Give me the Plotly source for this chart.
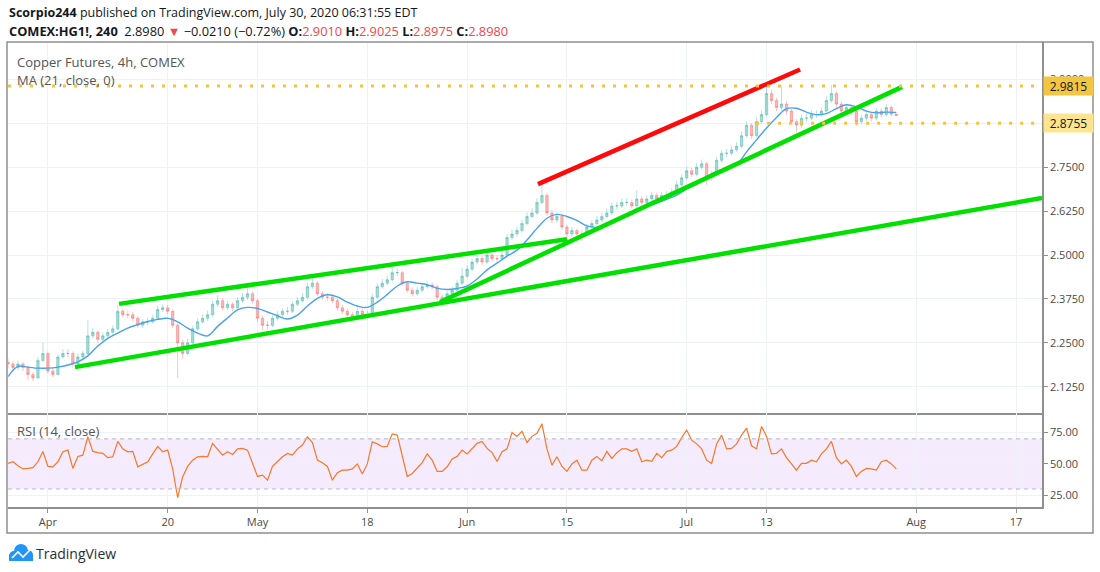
import pandas as pd
import plotly.graph_objects as go
from plotly.subplots import make_subplots

# values, two bars per session day (00:00 and 12:00)
closes = [
    2.190, 2.180, 2.190, 2.180, 2.160, 2.150, 2.200, 2.220, 2.170, 2.160,  # Mar 26 - Apr 1
    2.210, 2.220, 2.220, 2.190, 2.210, 2.220, 2.270, 2.280, 2.260, 2.270,  # Apr 2 - Apr 8
    2.280, 2.290, 2.340, 2.330, 2.330, 2.320, 2.300, 2.310, 2.310, 2.320,  # Apr 9 - Apr 16
    2.345, 2.350, 2.340, 2.300, 2.250, 2.220, 2.250, 2.290, 2.310, 2.320,  # Apr 17 - Apr 23
    2.330, 2.360, 2.370, 2.350, 2.360, 2.350, 2.370, 2.380, 2.390, 2.370,  # Apr 24 - Apr 30
    2.320, 2.300, 2.300, 2.320, 2.330, 2.340, 2.340, 2.360, 2.370, 2.380,  # May 1 - May 7
    2.410, 2.420, 2.390, 2.380, 2.380, 2.370, 2.350, 2.340, 2.330, 2.320,  # May 8 - May 14
    2.340, 2.330, 2.330, 2.380, 2.410, 2.420, 2.430, 2.450, 2.450, 2.420,  # May 15 - May 21
    2.400, 2.390, 2.400, 2.410, 2.415, 2.410, 2.380, 2.370, 2.390, 2.400,  # May 22 - May 28
    2.420, 2.440, 2.460, 2.480, 2.490, 2.480, 2.500, 2.490, 2.490, 2.500,  # May 29 - Jun 4
    2.550, 2.560, 2.570, 2.590, 2.610, 2.620, 2.650, 2.670, 2.620, 2.600,  # Jun 5 - Jun 11
    2.610, 2.580, 2.560, 2.570, 2.560, 2.560, 2.580, 2.590, 2.600, 2.610,  # Jun 12 - Jun 18
    2.620, 2.640, 2.640, 2.650, 2.650, 2.640, 2.660, 2.650, 2.660, 2.670,  # Jun 19 - Jun 25
    2.660, 2.670, 2.670, 2.680, 2.700, 2.720, 2.740, 2.730, 2.750, 2.760,  # Jun 26 - Jul 2
    2.720, 2.730, 2.770, 2.790, 2.790, 2.800, 2.810, 2.840, 2.870, 2.840,  # Jul 3 - Jul 9
    2.880, 2.900, 2.960, 2.940, 2.920, 2.930, 2.910, 2.880, 2.870, 2.890,  # Jul 10 - Jul 16
    2.890, 2.900, 2.900, 2.910, 2.940, 2.960, 2.930, 2.910, 2.920, 2.910,  # Jul 17 - Jul 23
    2.880, 2.890, 2.900, 2.890, 2.910, 2.900, 2.920, 2.901, 2.898,         # Jul 24 - Jul 30
]
highs = [
    2.205, 2.198, 2.200, 2.196, 2.185, 2.168, 2.210, 2.250, 2.225, 2.178,
    2.218, 2.232, 2.232, 2.226, 2.220, 2.228, 2.315, 2.292, 2.286, 2.280,
    2.290, 2.300, 2.358, 2.348, 2.342, 2.338, 2.326, 2.318, 2.322, 2.330,
    2.356, 2.360, 2.358, 2.346, 2.305, 2.258, 2.262, 2.298, 2.320, 2.330,
    2.342, 2.370, 2.386, 2.378, 2.370, 2.366, 2.380, 2.392, 2.410, 2.396,
    2.376, 2.328, 2.312, 2.328, 2.340, 2.348, 2.352, 2.368, 2.380, 2.392,
    2.422, 2.435, 2.426, 2.398, 2.392, 2.388, 2.376, 2.358, 2.348, 2.338,
    2.350, 2.348, 2.342, 2.390, 2.420, 2.432, 2.442, 2.466, 2.462, 2.456,
    2.426, 2.408, 2.410, 2.418, 2.425, 2.422, 2.416, 2.388, 2.398, 2.410,
    2.430, 2.464, 2.470, 2.490, 2.500, 2.498, 2.508, 2.506, 2.500, 2.510,
    2.560, 2.572, 2.582, 2.600, 2.622, 2.634, 2.662, 2.705, 2.676, 2.628,
    2.622, 2.616, 2.586, 2.580, 2.576, 2.572, 2.590, 2.600, 2.612, 2.620,
    2.632, 2.650, 2.652, 2.662, 2.662, 2.658, 2.685, 2.668, 2.670, 2.680,
    2.678, 2.680, 2.682, 2.690, 2.712, 2.730, 2.752, 2.748, 2.762, 2.772,
    2.766, 2.740, 2.780, 2.800, 2.802, 2.812, 2.822, 2.852, 2.880, 2.876,
    2.892, 2.912, 2.990, 2.972, 2.948, 2.980, 2.938, 2.916, 2.888, 2.900,
    2.902, 2.912, 2.912, 2.920, 2.952, 2.984, 2.966, 2.938, 2.930, 2.928,
    2.916, 2.900, 2.912, 2.908, 2.920, 2.918, 2.930, 2.926, 2.9025,
]
lows = [
    2.178, 2.170, 2.172, 2.170, 2.145, 2.140, 2.148, 2.195, 2.162, 2.152,
    2.158, 2.205, 2.210, 2.180, 2.185, 2.205, 2.215, 2.262, 2.250, 2.252,
    2.265, 2.272, 2.285, 2.322, 2.320, 2.312, 2.292, 2.292, 2.300, 2.305,
    2.316, 2.338, 2.332, 2.292, 2.150, 2.205, 2.215, 2.245, 2.284, 2.305,
    2.312, 2.325, 2.352, 2.342, 2.344, 2.340, 2.345, 2.364, 2.372, 2.362,
    2.310, 2.287, 2.288, 2.295, 2.314, 2.324, 2.330, 2.334, 2.354, 2.364,
    2.375, 2.404, 2.382, 2.372, 2.370, 2.362, 2.342, 2.332, 2.322, 2.315,
    2.316, 2.322, 2.320, 2.325, 2.375, 2.404, 2.414, 2.424, 2.440, 2.412,
    2.392, 2.382, 2.384, 2.394, 2.404, 2.402, 2.372, 2.364, 2.365, 2.384,
    2.395, 2.414, 2.435, 2.454, 2.474, 2.472, 2.475, 2.482, 2.478, 2.484,
    2.495, 2.544, 2.552, 2.564, 2.584, 2.604, 2.614, 2.644, 2.612, 2.590,
    2.592, 2.572, 2.543, 2.552, 2.550, 2.540, 2.555, 2.574, 2.584, 2.594,
    2.604, 2.614, 2.630, 2.634, 2.640, 2.632, 2.635, 2.642, 2.644, 2.654,
    2.652, 2.654, 2.660, 2.664, 2.675, 2.694, 2.714, 2.722, 2.724, 2.744,
    2.700, 2.712, 2.725, 2.764, 2.780, 2.784, 2.794, 2.804, 2.835, 2.830,
    2.835, 2.874, 2.895, 2.930, 2.910, 2.912, 2.900, 2.872, 2.848, 2.862,
    2.880, 2.884, 2.890, 2.894, 2.905, 2.934, 2.920, 2.900, 2.902, 2.900,
    2.868, 2.872, 2.882, 2.880, 2.884, 2.892, 2.894, 2.895, 2.8975,
]
first_open = 2.195

rsi = [
    50.4, 51.7, 48.5, 46.0, 46.4, 47.0, 51.7, 60.0, 48.0, 47.7,
    51.7, 59.7, 61.0, 46.4, 56.0, 57.0, 71.7, 60.0, 59.0, 58.4,
    55.0, 55.7, 68.0, 62.0, 59.7, 60.0, 47.7, 50.0, 51.7, 58.0,
    64.0, 59.7, 61.0, 46.0, 23.0, 39.6, 48.0, 53.0, 55.7, 56.0,
    55.7, 66.4, 62.0, 57.0, 59.7, 57.5, 62.0, 62.4, 61.0, 50.4,
    40.0, 41.0, 37.0, 48.0, 52.0, 55.7, 58.4, 57.0, 62.0, 65.1,
    71.7, 67.0, 53.0, 51.0, 48.0, 37.0, 43.0, 45.0, 45.0, 46.0,
    50.0, 42.0, 50.0, 67.7, 66.0, 63.7, 64.0, 74.0, 73.0, 57.0,
    40.0, 42.4, 47.0, 51.0, 58.0, 53.0, 44.0, 44.0, 47.7, 54.0,
    56.0, 61.0, 58.0, 62.4, 66.4, 68.0, 62.4, 59.0, 52.0, 59.7,
    62.0, 75.0, 72.0, 76.0, 67.0, 72.0, 74.5, 82.0, 62.0, 49.0,
    55.7, 48.0, 44.0, 50.0, 53.0, 45.0, 45.0, 53.0, 56.0, 52.5,
    60.0, 54.4, 59.0, 62.0, 62.0, 60.0, 62.0, 51.7, 53.0, 52.0,
    58.4, 55.0, 60.0, 61.0, 64.0, 71.0, 77.0, 69.0, 66.0, 62.0,
    53.0, 50.4, 66.0, 73.0, 62.0, 62.4, 66.0, 73.0, 78.5, 64.5,
    62.0, 80.0, 72.0, 58.0, 58.4, 62.0, 55.0, 50.0, 45.0, 50.4,
    50.5, 53.0, 51.7, 58.0, 62.0, 68.0, 55.0, 50.0, 53.0, 48.0,
    40.0, 44.0, 46.4, 46.0, 45.0, 51.7, 53.0, 50.0, 46.0,
]

# MA (21) read once per session day
ma21 = [
    2.154, 2.183, 2.181, 2.178, 2.178, 2.181, 2.187, 2.196, 2.213, 2.241,
    2.263, 2.278, 2.292, 2.302, 2.311, 2.317, 2.320, 2.310, 2.292, 2.278,
    2.270, 2.297, 2.321, 2.344, 2.351, 2.348, 2.338, 2.327, 2.318, 2.329,
    2.355, 2.377, 2.387, 2.381, 2.366, 2.355, 2.351, 2.366, 2.388, 2.412,
    2.424, 2.420, 2.416, 2.405, 2.402, 2.405, 2.412, 2.432, 2.458, 2.477,
    2.497, 2.514, 2.543, 2.576, 2.605, 2.616, 2.610, 2.599, 2.583, 2.579,
    2.587, 2.603, 2.614, 2.628, 2.638, 2.648, 2.659, 2.671, 2.688, 2.702,
    2.723, 2.738, 2.747, 2.757, 2.794, 2.828, 2.862, 2.892, 2.917, 2.918,
    2.907, 2.900, 2.903, 2.917, 2.928, 2.922, 2.910, 2.905, 2.907, 2.906,
]

# hand-drawn lines: (times, prices)
red_line = (["2020-06-10 02:24", "2020-07-16 08:38"], [2.702, 3.0285])
channel_top = (["2020-04-13 03:00", "2020-06-15 00:15"], [2.361, 2.545])
long_support = (["2020-04-03 17:00", "2020-08-19 14:24"], [2.181, 2.6626])
steep_support = (["2020-05-27 07:00", "2020-07-30 14:00"], [2.3665, 2.979])

resistance = 2.9815
support = 2.8755
support_start = "2020-07-09 23:00"

x_range = ["2020-03-26 00:00", "2020-08-19 14:24"]
date_ticks = ["2020-04-01", "2020-04-20", "2020-05-01", "2020-05-18", "2020-06-01",
              "2020-06-15", "2020-07-01", "2020-07-13", "2020-08-03", "2020-08-17"]
date_labels = ["Apr", "20", "May", "18", "Jun", "15", "Jul", "13", "Aug", "17"]
price_ticks = [2.125, 2.25, 2.375, 2.5, 2.625, 2.75, 2.875, 3.0]
rsi_ticks = [25, 50, 75]

UP = "rgba(38,166,154,0.42)"
DOWN = "rgba(239,83,80,0.42)"
GREEN = "#00e000"
GOLD = "#f7c33c"
AXIS = "#8f8f8f"
GRID = "#eef1f6"
TEXT = "#4a4a4a"
FONT = "Open Sans"

sessions = pd.bdate_range("2020-03-26", "2020-07-30")
sessions = sessions[sessions != pd.Timestamp("2020-04-10")]
bar_times = [d + pd.Timedelta(hours=h) for d in sessions for h in (0, 12)][:len(closes)]
opens = [first_open] + closes[:-1]

# pixels -> paper; the plot area covers x 8..1042 and y 42..507
def px(x):
    return (x - 8) / 1034


def py(y):
    return (507 - y) / 465


fig = make_subplots(rows=2, cols=1, shared_xaxes=True, vertical_spacing=0,
                    row_heights=[0.798, 0.202])

fig.add_trace(go.Candlestick(
    x=bar_times, open=opens, high=highs, low=lows, close=closes,
    increasing=dict(line=dict(color=UP, width=0.8), fillcolor=UP),
    decreasing=dict(line=dict(color=DOWN, width=0.8), fillcolor=DOWN),
    whiskerwidth=0, showlegend=False, hoverinfo="skip",
), row=1, col=1)

fig.add_trace(go.Scatter(x=sessions, y=ma21, mode="lines", hoverinfo="skip",
                         line=dict(color="#49a2ee", width=1.4, shape="spline"),
                         showlegend=False), row=1, col=1)

for xs, ys, color in [(*channel_top, GREEN), (*long_support, GREEN),
                      (*steep_support, GREEN), (*red_line, "#ff0a0a")]:
    fig.add_trace(go.Scatter(x=xs, y=ys, mode="lines", hoverinfo="skip",
                             line=dict(color=color, width=4.5), showlegend=False),
                  row=1, col=1)

fig.add_trace(go.Scatter(x=bar_times, y=rsi, mode="lines", hoverinfo="skip",
                         line=dict(color="#f7782a", width=1.2), showlegend=False),
              row=2, col=1)

# levels
fig.add_shape(type="line", xref="x domain", yref="y", x0=0, x1=1, y0=resistance, y1=resistance,
              line=dict(color=GOLD, width=3, dash="3px,8px"))
fig.add_shape(type="line", xref="x", yref="y", x0=support_start, x1=x_range[1], y0=support, y1=support,
              line=dict(color=GOLD, width=3, dash="3px,8px"))

# RSI band
fig.add_shape(type="rect", xref="x2 domain", yref="y2", x0=0, x1=1, y0=30, y1=70,
              fillcolor="rgba(170,100,240,0.13)", line=dict(width=0), layer="below")
for lvl in (30, 70):
    fig.add_shape(type="line", xref="x2 domain", yref="y2", x0=0, x1=1, y0=lvl, y1=lvl,
                  line=dict(color="#b8b8c4", width=1, dash="4px,4px"))

# outer frame
fig.add_shape(type="rect", xref="paper", yref="paper", x0=px(7), x1=px(1093), y0=py(533), y1=py(42),
              line=dict(color=AXIS, width=1.5))

# TradingView logo
for cx, cy, r in [(14, 556, 5), (21, 551, 7), (28, 555, 5)]:
    fig.add_shape(type="circle", xref="paper", yref="paper", x0=px(cx - r), x1=px(cx + r),
                  y0=py(cy + r), y1=py(cy - r), fillcolor="#2196f3", line=dict(width=0))
fig.add_shape(type="rect", xref="paper", yref="paper", x0=px(9), x1=px(33), y0=py(561), y1=py(555),
              fillcolor="#2196f3", line=dict(width=0))
fig.add_shape(type="path", xref="paper", yref="paper",
              path=f"M{px(12)},{py(558)} L{px(18)},{py(552)} L{px(23)},{py(557)} L{px(30)},{py(550)}",
              line=dict(color="white", width=1.6))

notes = [
    (7, 12, "<b>Scorpio244</b> published on TradingView.com, July 30, 2020 06:31:55 EDT", 12.5, "#131722"),
    (7, 31, "<b>COMEX:HG1!, 240</b>  2.8980 <span style='color:#f04848'>▼</span> −0.0210 (−0.72%) "
            "<b>O:</b><span style='color:#f04848'>2.9010</span> <b>H:</b><span style='color:#f04848'>2.9025</span> "
            "<b>L:</b><span style='color:#f04848'>2.8975</span> <b>C:</b><span style='color:#f04848'>2.8980</span>",
     12.8, "#131722"),
    (15, 62, "Copper Futures, 4h, COMEX", 13, "#555555"),
    (15, 80, "MA (21, close, 0)", 13, "#555555"),
    (15, 431, "RSI (14, close)", 13, "#555555"),
    (34, 553, "TradingView", 14, "#2a2e39"),
]
for x, y, text, size, color in notes:
    fig.add_annotation(xref="paper", yref="paper", x=px(x), y=py(y), xanchor="left", yanchor="middle",
                       text=text, showarrow=False, font=dict(family=FONT, size=size, color=color))

for level, bg in [(resistance, "#f2c542"), (support, "#fde58f")]:
    fig.add_annotation(xref="paper", yref="y", x=px(1043), y=level, xanchor="left", yanchor="middle",
                       text=f"{level:.4f}", showarrow=False, bgcolor=bg, width=45, height=14,
                       borderpad=2, font=dict(family=FONT, size=12, color="#131722"))

fig.update_xaxes(range=x_range, rangebreaks=[dict(bounds=["sat", "mon"]), dict(values=["2020-04-10"])],
                 tickvals=date_ticks, ticktext=date_labels, showgrid=True, gridcolor=GRID,
                 showline=True, linecolor=AXIS, linewidth=1.5, rangeslider_visible=False,
                 tickfont=dict(family=FONT, size=11, color=TEXT), zeroline=False)
fig.update_xaxes(ticks="outside", ticklen=4, tickcolor=AXIS, row=2, col=1)

fig.update_yaxes(side="right", showline=True, linecolor=AXIS, linewidth=1.5, showgrid=True,
                 gridcolor=GRID, ticks="outside", ticklen=4, tickcolor=AXIS, zeroline=False,
                 tickfont=dict(family=FONT, size=11, color=TEXT))
# 2.8750 sits under the 2.8755 price tag, so its label stays empty
fig.update_yaxes(range=[2.0501, 3.1068], tickvals=price_ticks,
                 ticktext=["" if v == 2.875 else f"{v:.4f}" for v in price_ticks], row=1, col=1)
fig.update_yaxes(range=[15.6, 90.6], tickvals=rsi_ticks,
                 ticktext=[f"{v:.2f}" for v in rsi_ticks], row=2, col=1)

fig.update_layout(
    width=1100, height=572,
    margin=dict(l=8, r=58, t=42, b=65),
    paper_bgcolor="white", plot_bgcolor="white",
    showlegend=False, hovermode=False,
    font=dict(family=FONT, color=TEXT),
)

# drop the page's default body margin so the figure fills the window
fig.write_html("out.html", config={"displayModeBar": False},
               post_script="document.body.style.margin = '0';")
